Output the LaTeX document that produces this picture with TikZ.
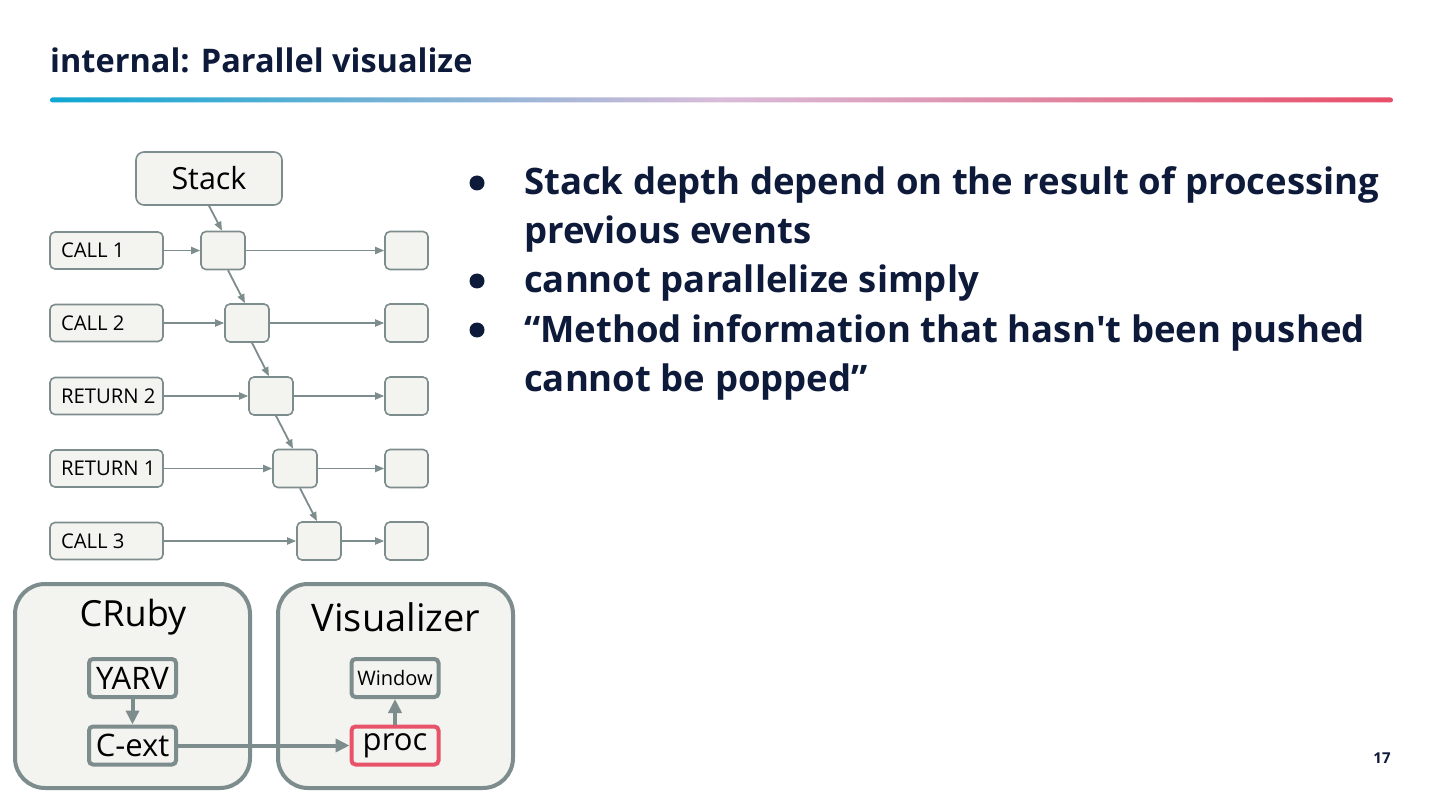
\documentclass[tikz,border=0pt]{standalone}
\usepackage{fontspec}
\setmainfont{Open Sans}
\newfontfamily\lblfont{Open Sans}
\usetikzlibrary{arrows.meta,calc}
\definecolor{navy}{HTML}{0D1A3A}
\definecolor{edge}{HTML}{7D8C8C}
\definecolor{boxfill}{HTML}{F3F3EF}
\definecolor{redb}{HTML}{E8536A}
\definecolor{cyanl}{HTML}{0EA7D2}
\definecolor{lav}{HTML}{D9BCD9}
\definecolor{redl}{HTML}{E84E68}
\newcommand{\lbltxt}[1]{\makebox[91pt][l]{#1}}
\tikzset{
  lbl/.style={draw=edge,fill=boxfill,line width=1.6pt,rounded corners=5pt,minimum width=113pt,minimum height=37pt,inner xsep=11pt,inner ysep=0pt,font=\lblfont\fontsize{20.3}{24}\selectfont,text=black,anchor=center},
  cell/.style={draw=edge,fill=boxfill,line width=1.6pt,rounded corners=5pt,minimum width=44pt,minimum height=38pt,inner sep=0pt},
  arr/.style={draw=edge,line width=1.8pt,-{Triangle[length=9pt,width=7pt]}},
  group/.style={draw=edge,fill=boxfill,line width=4pt,rounded corners=30pt,minimum width=235pt,minimum height=204pt,inner sep=0pt},
  inbox/.style={draw=edge,fill=boxfill,line width=4pt,rounded corners=4pt,minimum width=87pt,minimum height=38pt,inner sep=0pt,font=\lblfont\fontsize{31}{34}\selectfont},
  bigarr/.style={draw=edge,line width=4pt,-{Triangle[length=14pt,width=13pt]}},
  bul/.style={anchor=base west,inner sep=0pt,text=navy,font=\bfseries\fontsize{36.5}{40}\selectfont},
}
\begin{document}
\begin{tikzpicture}[x=1pt,y=-1pt]
\useasboundingbox (0,0) rectangle (1440,810);
\fill[white] (0,0) rectangle (1440,810);
% title
\node[anchor=base west,inner sep=0pt,text=navy,font=\bfseries\fontsize{32.5}{36}\selectfont] (title) at (50,73) {internal: Parallel visualize};
\shade[left color=cyanl,right color=redl,middle color=lav,rounded corners=2.5pt] (50,97.5) rectangle (1393,102.5);
% bullets
\node[bul] (b1) at (524,195) {Stack depth depend on the result of processing};
\node[bul] (b1b) at (524,244) {previous events};
\node[bul] (b2) at (524,293) {cannot parallelize simply};
\node[bul] (b3) at (524,342) {“Method information that hasn\textquotesingle t been pushed};
\node[bul] (b3b) at (524,391) {cannot be popped”};
\foreach \yy in {183,281,330}{
  \fill[navy] (477,\yy) circle (7.5pt);
}
% page number
\node[anchor=center,inner sep=0pt,text=navy,font=\bfseries\fontsize{15}{18}\selectfont] (pg) at (1382,758) {17};
% stack diagram
\node[draw=edge,fill=boxfill,line width=1.6pt,rounded corners=8pt,minimum width=146pt,minimum height=53pt,inner sep=0pt,font=\lblfont\fontsize{30.5}{34}\selectfont] (stack) at (209,178.5) {Stack};
\node[lbl] (l1) at (106.5,250.5) {\lbltxt{CALL 1}};
\node[lbl] (l2) at (106.5,323) {\lbltxt{CALL 2}};
\node[lbl] (l3) at (106.5,396) {\lbltxt{RETURN 2}};
\node[lbl] (l4) at (106.5,468.5) {\lbltxt{RETURN 1}};
\node[lbl] (l5) at (106.5,541) {\lbltxt{CALL 3}};
\node[cell] (m1) at (223,250.5) {};
\node[cell] (m2) at (247,323) {};
\node[cell] (m3) at (271,396) {};
\node[cell] (m4) at (295,468.5) {};
\node[cell] (m5) at (319,541) {};
\foreach \i/\yy in {1/250.5,2/323,3/396,4/468.5,5/541}{
  \node[cell,minimum width=43pt] (r\i) at (406.5,\yy) {};
  \draw[arr] (l\i.east) -- (m\i.west);
  \draw[arr] (m\i.east) -- (r\i.west);
}
\draw[arr] (stack.south) -- ($(m1.north)+(-1,0)$);
\draw[arr] ($(m1.south)+(5,0)$) -- ($(m2.north)+(-2,0)$);
\draw[arr] ($(m2.south)+(5,0)$) -- ($(m3.north)+(-2,0)$);
\draw[arr] ($(m3.south)+(5,0)$) -- ($(m4.north)+(-2,0)$);
\draw[arr] ($(m4.south)+(5,0)$) -- ($(m5.north)+(-2,0)$);
% bottom groups
\node[group] (cruby) at (132.5,686) {};
\node[group] (vis) at (395.5,686) {};
\node[inner sep=0pt,font=\lblfont\fontsize{36}{40}\selectfont] (crubyt) at (133,617) {CRuby};
\node[inner sep=0pt,font=\lblfont\fontsize{38}{42}\selectfont] (vist) at (396,617) {Visualizer};
\node[inbox] (yarv) at (132.5,678) {YARV};
\node[inbox] (cext) at (132.5,745.5) {C-ext};
\node[inbox,font=\lblfont\fontsize{20}{23}\selectfont] (win) at (395,678) {Window};
\node[inbox,draw=redb] (proc) at (395,745.5) {proc};
\draw[bigarr] (yarv.south) -- (cext.north);
\draw[bigarr] (cext.east) -- (proc.west);
\draw[bigarr] (proc.north) -- (win.south);
\end{tikzpicture}
\end{document}
